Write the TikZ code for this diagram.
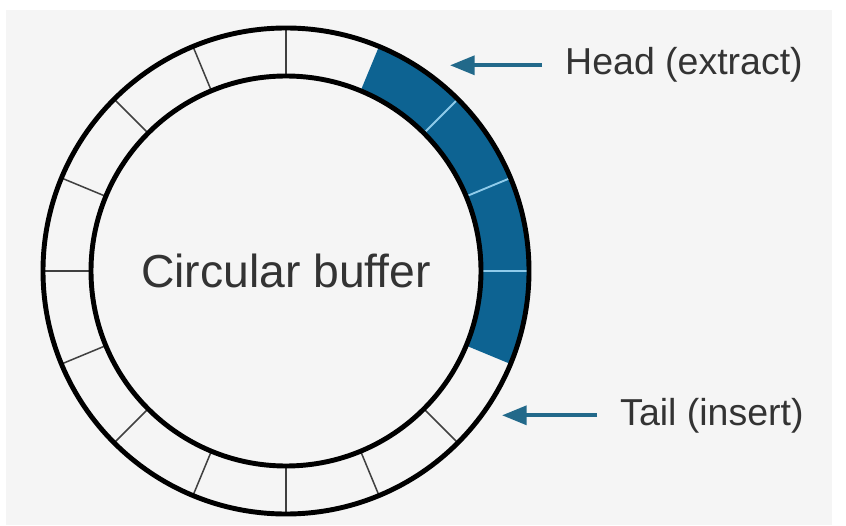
\documentclass[tikz,border=0pt]{standalone}
\usepackage{fontspec}
\setmainfont{Liberation Sans}
\usetikzlibrary{arrows.meta,positioning,calc}
\definecolor{bufblue}{HTML}{0D6392}
\definecolor{sepblue}{HTML}{8FCBEA}
\definecolor{pointerteal}{HTML}{22698A}
\definecolor{bggray}{HTML}{F5F5F5}

\begin{document}
\begin{tikzpicture}[
    x=0.03cm, y=0.03cm,
    ring/.style={line width=4.2pt, draw=black},
    slot/.style={line width=1.3pt, draw=black!75},
    slotlight/.style={line width=1.6pt, draw=sepblue},
    lbl/.style={font=\fontsize{32}{37}\selectfont, text=black!80, anchor=base west, inner sep=0pt},
    pointer/.style={-{Triangle[length=21pt, width=16pt]}, line width=3.4pt, draw=pointerteal}
]
% background and margins
\fill[white] (0,0) rectangle (846,525);
\fill[bggray] (6,0) rectangle (832,515);
\useasboundingbox (0,0) rectangle (846,525);

\coordinate (c) at (286,254);

% occupied slots
\fill[bufblue] ($(c)+(67.5:243)$) arc[start angle=67.5, end angle=-22.5, radius=243]
    -- ($(c)+(-22.5:195)$) arc[start angle=-22.5, end angle=67.5, radius=195] -- cycle;

% slot separators
\foreach \a in {90,112.5,...,315}
    \draw[slot] ($(c)+(\a:195)$) -- ($(c)+(\a:243)$);
\foreach \a in {0,22.5,45}
    \draw[slotlight] ($(c)+(\a:197)$) -- ($(c)+(\a:241)$);

\draw[ring] (c) circle[radius=243];
\draw[ring] (c) circle[radius=195];

\node[font=\fontsize{39.5}{44}\selectfont, text=black!80] (buf) at (c) {Circular buffer};

\node[lbl] (headlbl) at (565,450) {Head (extract)};
\node[lbl] (taillbl) at (620,100) {Tail (insert)};

\coordinate (headtip) at (450,462);
\coordinate (tailtip) at (502,112);

\draw[pointer] ([xshift=-0.69cm]headlbl.west) -- (headtip |- headlbl.west);
\draw[pointer] ([xshift=-0.69cm]taillbl.west) -- (tailtip |- taillbl.west);
\end{tikzpicture}
\end{document}
